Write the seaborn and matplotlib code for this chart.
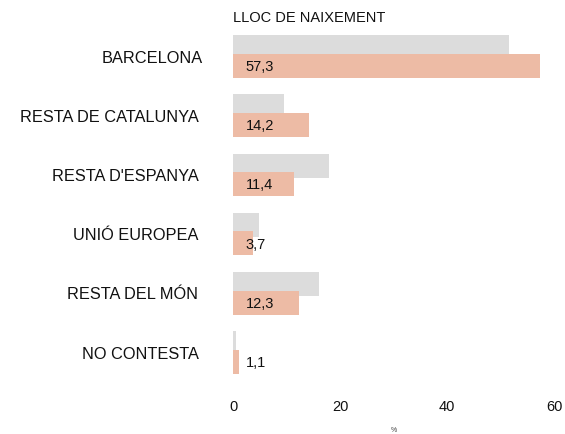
import matplotlib
matplotlib.use("Agg")
import matplotlib.pyplot as plt
import matplotlib.transforms as mtransforms
import seaborn as sns
import pandas as pd

# Lloc de naixement: referència (gris) i valor actual (taronja), en %
categories = ["BARCELONA", "RESTA DE CATALUNYA", "RESTA D'ESPANYA",
              "UNIÓ EUROPEA", "RESTA DEL MÓN", "NO CONTESTA"]
referencia = [51.5, 9.6, 17.9, 4.9, 16.1, 0.6]
actual = [57.3, 14.2, 11.4, 3.7, 12.3, 1.1]
x_ticks = [0, 20, 40, 60]

GRAY = "#DCDCDC"
ORANGE = "#EDBBA5"
TEXT = "#111111"

sns.set_theme(style="white")
plt.rcParams["font.family"] = ["Liberation Sans", "DejaVu Sans"]

df = pd.DataFrame({
    "cat": categories * 2,
    "val": referencia + actual,
    "serie": ["ref"] * len(categories) + ["act"] * len(categories),
})

fig = plt.figure(figsize=(5.65, 4.34), dpi=100)
ax = fig.add_axes([227.65 / 565, 1 - 382.1 / 434, 331.7 / 565, 355.2 / 434])

sns.barplot(data=df, y="cat", x="val", hue="serie", order=categories,
            hue_order=["ref", "act"], palette=[GRAY, ORANGE],
            orient="h", dodge=True, width=0.8, legend=False, ax=ax,
            linewidth=0, saturation=1)

# Overlapping pair of bars: grey slightly above, orange slightly below
bar_h = 0.405
offset = 0.156
n = len(categories)
for i, p in enumerate(ax.patches[:2 * n]):
    idx = i % n
    sign = -1 if i < n else 1
    p.set_height(bar_h)
    p.set_y(idx + sign * offset - bar_h / 2)
    p.set_zorder(2 if i < n else 3)

for i, v in enumerate(actual):
    ax.text(2.4, i + offset + 0.02, f"{v:.1f}".replace(".", ","),
            ha="left", va="center", fontsize=10.5, color=TEXT, zorder=4)

ax.set_xlim(-1, 61)
ax.set_ylim(5.5, -0.5)
ax.set_xticks(x_ticks)
ax.set_xticklabels([str(t) for t in x_ticks])
ax.tick_params(axis="x", length=0, pad=13, labelsize=10.5, labelcolor=TEXT)
ax.tick_params(axis="y", length=0, pad=21, labelsize=11.75, labelcolor=TEXT)
ax.set_ylabel("")
ax.set_xlabel("%", fontsize=5, labelpad=9, color="#444444")
for s in ax.spines.values():
    s.set_visible(False)
ax.grid(False)

# first category label sits a little further right
first = ax.get_yticklabels()[0]
first.set_transform(first.get_transform() +
                    mtransforms.ScaledTranslation(4 / 100, 0, fig.dpi_scale_trans))

fig.text(233 / 565, 1 - 18.5 / 434, "LLOC DE NAIXEMENT", ha="left", va="center",
         fontsize=10.5, color=TEXT)

fig.savefig("out.png", dpi=100, facecolor="white")
